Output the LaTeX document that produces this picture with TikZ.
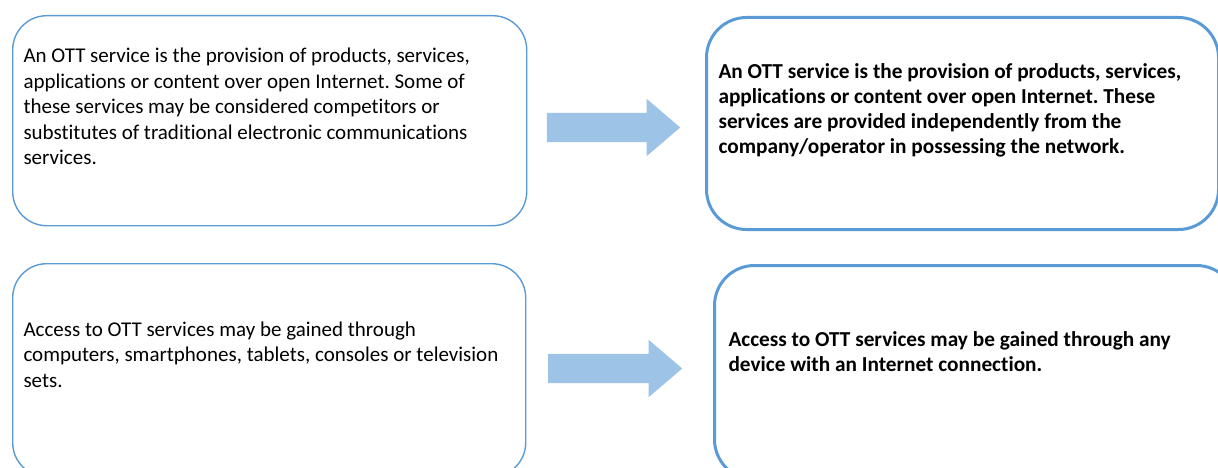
\documentclass[tikz,border=0pt]{standalone}
\usepackage{fontspec}
\setmainfont{Carlito}[Ligatures=NoCommon]
\usetikzlibrary{shapes.arrows}
\frenchspacing
\definecolor{boxblue}{HTML}{5B9BD5}
\definecolor{arrowblue}{HTML}{9DC3E6}
\tikzset{
  thinbox/.style={draw=boxblue, line width=1.4pt, rounded corners=34pt, rectangle, inner sep=0pt, anchor=north west},
  thickbox/.style={draw=boxblue, line width=3pt, rounded corners=40pt, rectangle, inner sep=0pt, anchor=north west},
  plaintext/.style={anchor=north west, inner sep=0pt, align=left, font=\fontsize{21}{25.5}\selectfont},
  boldtext/.style={anchor=north west, inner sep=0pt, align=left, font=\fontsize{21.3}{24.9}\selectfont\bfseries},
  bigarrow/.style={single arrow, fill=arrowblue, draw=none, inner xsep=0pt, inner ysep=14.5pt,
    single arrow head extend=14pt, single arrow tip angle=81, anchor=tail}
}
\begin{document}
\begin{tikzpicture}[x=1pt, y=-1pt]
\useasboundingbox (0,0) rectangle (1218,468);
\clip (0,0) rectangle (1218,468);
\fill[white] (0,0) rectangle (1218,468);
% boxes
\node[thinbox, minimum width=514pt, minimum height=210pt] (b1) at (12,15) {};
\node[thickbox, minimum width=512pt, minimum height=212pt] (b2) at (705,16) {};
\node[thinbox, minimum width=513pt, minimum height=213pt] (b3) at (12,263) {};
\node[thickbox, minimum width=522pt, minimum height=214pt] (b4) at (713,264) {};
% texts
\node[plaintext] (t1) at (23.3,44.5) {\strut An OTT service is the provision of products, services,\\
applications or content over open Internet. Some of\\
these services may be considered competitors or\\
substitutes of traditional electronic communications\\
services.};
\node[boldtext] (t2) at (718.3,60.9) {\strut An OTT service is the provision of products, services,\\
applications or content over open Internet. These\\
services are provided independently from the\\
company/operator in possessing the network.};
\node[plaintext] (t3) at (23.3,318.2) {\strut Access to OTT services may be gained through\\
computers, smartphones, tablets, consoles or television\\
sets.};
\node[boldtext] (t4) at (728.3,329.3) {\strut Access to OTT services may be gained through any\\
device with an Internet connection.};
% arrows
\node[bigarrow, minimum height=133.3pt] (a1) at (546.7,127.5) {};
\node[bigarrow, minimum height=134pt] (a2) at (548,368.5) {};
\end{tikzpicture}
\end{document}
